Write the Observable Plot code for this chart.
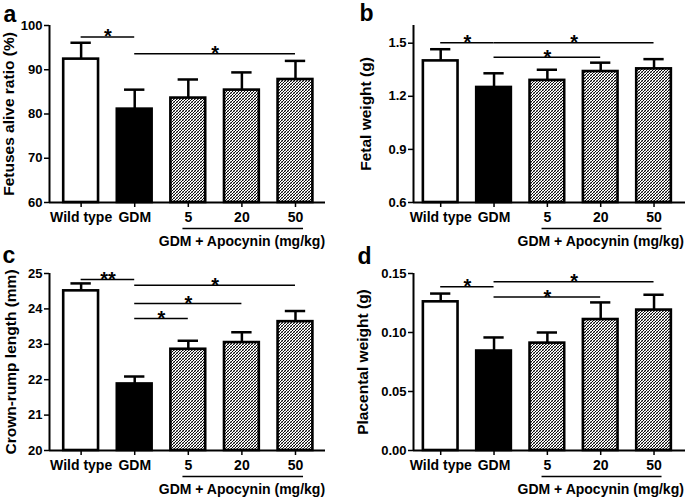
<!DOCTYPE html>
<html><head><meta charset="utf-8">
<script src="https://cdn.jsdelivr.net/npm/d3@7"></script>
<script src="https://cdn.jsdelivr.net/npm/@observablehq/plot@0.6"></script>
<style>
body{margin:0;background:#fff;}
#fig{position:relative;width:685px;height:497px;overflow:hidden;background:#fff;}
.panel{position:absolute;}
</style></head><body><div id="fig"></div>
<script>
// ---- data ----
const groups = ["Wild type", "GDM", "5", "20", "50"];
const groupMembers = ["5", "20", "50"];
const groupLabel = "GDM + Apocynin (mg/kg)";

const aliveMean = [92.4, 81.1, 83.6, 85.4, 87.8];
const aliveErr  = [3.7, 4.4, 4.2, 4.0, 4.2];
const fetalMean = [1.40, 1.25, 1.29, 1.34, 1.355];
const fetalErr  = [0.066, 0.08, 0.06, 0.05, 0.055];
const crownMean = [24.51, 21.88, 22.86, 23.05, 23.64];
const crownErr  = [0.21, 0.21, 0.24, 0.29, 0.30];
const placentaMean = [0.126, 0.0843, 0.091, 0.111, 0.119];
const placentaErr  = [0.007, 0.0115, 0.009, 0.0145, 0.013];

const aliveSig = [
  {from: "Wild type", to: "GDM", y: 97.4, label: "*"},
  {from: "GDM", to: "50", y: 93.6, label: "*"}
];
const fetalSig = [
  {from: "Wild type", to: "GDM", y: 1.503, label: "*"},
  {from: "GDM", to: "50", y: 1.503, label: "*"},
  {from: "GDM", to: "20", y: 1.42, label: "*"}
];
const crownSig = [
  {from: "Wild type", to: "GDM", y: 24.83, label: "**"},
  {from: "GDM", to: "50", y: 24.67, label: "*"},
  {from: "GDM", to: "20", y: 24.15, label: "*"},
  {from: "GDM", to: "5", y: 23.73, label: "*"}
];
const placentaSig = [
  {from: "Wild type", to: "GDM", y: 0.1387, label: "*"},
  {from: "GDM", to: "50", y: 0.143, label: "*"},
  {from: "GDM", to: "20", y: 0.130, label: "*"}
];

const aliveTicks = [60, 70, 80, 90, 100];
const fetalTicks = [0.6, 0.9, 1.2, 1.5];
const crownTicks = [20, 21, 22, 23, 24, 25];
const placentaTicks = [0, 0.05, 0.10, 0.15];

const panelLetters = ["a", "b", "c", "d"];
const yLabels = ["Fetuses alive ratio (%)", "Fetal weight (g)", "Crown-rump length (mm)", "Placental weight (g)"];

// ---- drawing ----
const FONT = '"Liberation Sans", Arial, Helvetica, sans-serif';
const idx = g => groups.indexOf(g);

function makePanel(p) {
  const rows = groups.map((g, i) => ({g, i, mean: p.mean[i], err: p.err[i]}));
  const y0 = p.domain[0];
  const hw = 0.325, cw = 0.19;
  const pid = "hatch-" + p.letter;
  const fillOf = i => i === 0 ? "white" : i === 1 ? "black" : `url(#${pid})`;
  const gStart = idx(groupMembers[0]), gEnd = idx(groupMembers[groupMembers.length - 1]);
  const svg = Plot.plot({
    width: p.width, height: p.height,
    marginLeft: p.ml, marginRight: p.mr, marginTop: p.mt, marginBottom: p.mb,
    style: {fontFamily: FONT, fontWeight: "bold", fontSize: "13px", background: "transparent", overflow: "visible", color: "black"},
    x: {domain: p.xDomain, axis: null},
    y: {domain: p.domain, axis: null},
    color: {type: "identity"},
    marks: [
      Plot.rectY(rows, {x1: d => d.i - hw, x2: d => d.i + hw, y1: y0, y2: "mean",
        fill: d => fillOf(d.i), stroke: "black", strokeWidth: 2.6}),
      Plot.ruleX(rows, {x: "i", y1: "mean", y2: d => d.mean + d.err, stroke: "black", strokeWidth: 2.5}),
      Plot.ruleY(rows, {y: d => d.mean + d.err, x1: d => d.i - cw, x2: d => d.i + cw, stroke: "black", strokeWidth: 2.5}),
      Plot.ruleY([y0], {stroke: "black", strokeWidth: 2}),
      Plot.ruleX([p.xDomain[0]], {stroke: "black", strokeWidth: 2}),
      Plot.axisX({ticks: groups.map((g, i) => i), tickFormat: i => groups[i], tickSize: 5, tickPadding: 5,
        fontSize: 14, fontWeight: "bold", strokeWidth: 1.5, label: null}),
      Plot.axisY({ticks: p.ticks, tickFormat: p.format, tickSize: 5, tickPadding: 2,
        fontSize: 13, fontWeight: "bold", strokeWidth: 1.5, label: null}),
      Plot.ruleY(p.sig, {y: "y", x1: d => idx(d.from), x2: d => idx(d.to), stroke: "black", strokeWidth: 1.5}),
      Plot.text(p.sig, {x: d => (idx(d.from) + idx(d.to)) / 2, y: "y", text: "label",
        fontSize: 20, fontWeight: "bold", lineAnchor: "middle"}),
      Plot.ruleY([groupMembers], {y: y0, x1: gStart - 0.1, x2: gEnd + 0.15, dy: 26, stroke: "black", strokeWidth: 1.5}),
      Plot.text([groupLabel], {x: (gStart + gEnd) / 2, y: y0, text: d => d, dx: 0, dy: 43,
        fontSize: 14, fontWeight: "bold", lineAnchor: "bottom", textAnchor: "middle"}),
      Plot.text([p.yLabel], {frameAnchor: "left", text: d => d, rotate: -90, dx: p.labelDx,
        fontSize: 15.5, fontWeight: "bold", lineAnchor: "middle", textAnchor: "middle"}),
      Plot.text([p.letter], {frameAnchor: "top-left", text: d => d, dx: p.letterDx, dy: p.letterDy,
        fontSize: 23, fontWeight: "bold", textAnchor: "start", lineAnchor: "bottom"})
    ]
  });
  d3.select(svg).insert("defs", ":first-child").html(
    `<pattern id="${pid}" patternUnits="userSpaceOnUse" width="3" height="3">` +
    `<rect width="3" height="3" fill="white"/>` +
    `<path d="M-1,1 l2,-2 M0,3 l3,-3 M2,4 l2,-2" stroke="black" stroke-width="0.95"/>` +
    `<path d="M-1,2 l2,2 M0,0 l3,3 M2,-1 l2,2" stroke="black" stroke-width="0.4"/></pattern>`);
  const div = document.createElement("div");
  div.className = "panel";
  div.style.left = p.left + "px";
  div.style.top = p.top + "px";
  div.appendChild(svg);
  document.getElementById("fig").appendChild(div);
}

const leftX = [-0.59, 4.56], rightX = [-0.51, 4.59];
makePanel({letter: panelLetters[0], yLabel: yLabels[0], mean: aliveMean, err: aliveErr, sig: aliveSig,
  ticks: aliveTicks, domain: [60, 100], format: d3.format("d"),
  left: 0, top: 0, width: 342, height: 248, ml: 49, mr: 17, mt: 25, mb: 46, xDomain: leftX,
  labelDx: -40.5, letterDx: -46, letterDy: -4});
makePanel({letter: panelLetters[1], yLabel: yLabels[1], mean: fetalMean, err: fetalErr, sig: fetalSig,
  ticks: fetalTicks, domain: [0.6, 1.6], format: d3.format(".1f"),
  left: 342, top: 0, width: 343, height: 248, ml: 71, mr: 0, mt: 25, mb: 46, xDomain: rightX,
  labelDx: -47, letterDx: -54, letterDy: -4.5});
makePanel({letter: panelLetters[2], yLabel: yLabels[2], mean: crownMean, err: crownErr, sig: crownSig,
  ticks: crownTicks, domain: [20, 25], format: d3.format("d"),
  left: 0, top: 248, width: 342, height: 249, ml: 49, mr: 17, mt: 25, mb: 47, xDomain: leftX,
  labelDx: -38.5, letterDx: -47, letterDy: -10.5});
makePanel({letter: panelLetters[3], yLabel: yLabels[3], mean: placentaMean, err: placentaErr, sig: placentaSig,
  ticks: placentaTicks, domain: [0, 0.15], format: d3.format(".2f"),
  left: 342, top: 248, width: 343, height: 249, ml: 71, mr: 0, mt: 25, mb: 47, xDomain: rightX,
  labelDx: -50.5, letterDx: -56, letterDy: -10});
</script></body></html>
